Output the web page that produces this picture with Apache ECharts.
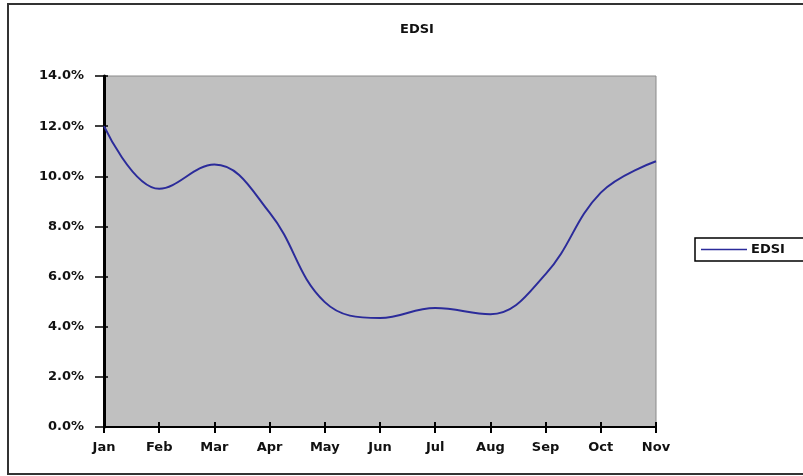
<!DOCTYPE html>
<html>
<head>
<meta charset="utf-8">
<script src="https://cdn.jsdelivr.net/npm/echarts@6/dist/echarts.min.js"></script>
<style>html,body{margin:0;padding:0;background:#fff;}#c{width:803px;height:476px;}</style>
</head>
<body>
<div id="c"></div>
<script>
var months = ['Jan','Feb','Mar','Apr','May','Jun','Jul','Aug','Sep','Oct','Nov'];
var edsi = [12.0, 9.5, 10.47, 8.55, 4.98, 4.35, 4.75, 4.5, 6.1, 9.35, 10.6];
var yTicks = [0, 2, 4, 6, 8, 10, 12, 14];

var chart = echarts.init(document.getElementById('c'));
var font = 'DejaVu Sans, Liberation Sans, Arial, sans-serif';
var txt = {fontSize: 13, fontWeight: 'bold', color: '#111', fontFamily: font};
chart.setOption({
  animation: false,
  backgroundColor: '#fff',
  textStyle: {fontFamily: font},
  title: {
    text: 'EDSI', left: 412, top: 18, textAlign: 'center',
    textStyle: txt
  },
  graphic: [{
    type: 'rect', shape: {x: 8, y: 4, width: 820, height: 470},
    style: {fill: 'none', stroke: '#333', lineWidth: 2}, silent: true, z: 100
  }],
  legend: {
    data: ['EDSI'], left: 695, top: 238, orient: 'vertical',
    backgroundColor: '#fff', borderColor: '#000', borderWidth: 1.5,
    padding: [5, 30, 5, 6], itemWidth: 46, itemHeight: 12, itemGap: 0,
    textStyle: {fontSize: 13, fontWeight: 'bold', color: '#111', fontFamily: font, padding: [0, 0, 0, -1]},
    icon: 'path://M0,5 L46,5 L46,6.5 L0,6.5 Z'
  },
  grid: {
    left: 104, right: 147, top: 76, bottom: 49, show: true,
    backgroundColor: '#C0C0C0', borderColor: '#8a8a8a', borderWidth: 1
  },
  xAxis: [{
    type: 'category', data: months, boundaryGap: false,
    axisLine: {show: true, lineStyle: {color: '#000', width: 2}},
    axisTick: {show: true, length: 6, inside: false, alignWithLabel: true, lineStyle: {color: '#000', width: 2}},
    axisLabel: {fontSize: 13, fontWeight: 'bold', color: '#111', margin: 14, fontFamily: font},
    splitLine: {show: false}
  }, {
    type: 'category', data: months, boundaryGap: false, position: 'bottom',
    axisLine: {show: false},
    axisTick: {show: true, length: 5, inside: true, lineStyle: {color: '#000', width: 2}},
    axisLabel: {show: false}, splitLine: {show: false}
  }],
  yAxis: [{
    type: 'value', min: yTicks[0], max: yTicks[yTicks.length - 1], interval: 2,
    axisLine: {show: true, lineStyle: {color: '#000', width: 3}},
    axisTick: {show: true, length: 9, lineStyle: {color: '#000', width: 1.5}},
    axisLabel: {fontSize: 13, fontWeight: 'bold', color: '#111', margin: 20, fontFamily: font,
      formatter: function (v) { return v.toFixed(1) + '%'; }},
    splitLine: {show: false}
  }, {
    type: 'value', min: yTicks[0], max: yTicks[yTicks.length - 1], interval: 2, position: 'left',
    axisLine: {show: false},
    axisTick: {show: true, length: 4, inside: true, lineStyle: {color: '#000', width: 1.5}},
    axisLabel: {show: false}, splitLine: {show: false}
  }],
  series: [{
    name: 'EDSI', type: 'line', data: edsi, smooth: 0.4,
    showSymbol: false, symbol: 'none',
    lineStyle: {color: '#2B2B9A', width: 2},
    itemStyle: {color: '#2B2B9A'}
  }]
});
</script>
</body>
</html>
